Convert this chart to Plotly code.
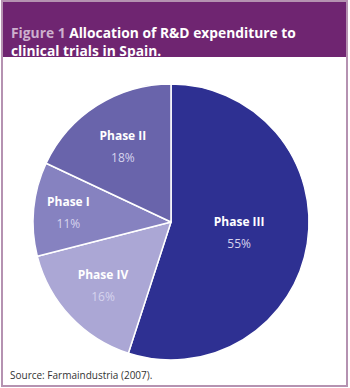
import plotly.graph_objects as go

labels = ["Phase III", "Phase IV", "Phase I", "Phase II"]
values = [55, 16, 11, 18]
colors = ["#2e3092", "#aba7d5", "#8682c0", "#6964ab"]

title_prefix = "Figure 1"
title_line1 = "Allocation of R&D expenditure to"
title_line2 = "clinical trials in Spain."
source = "Source: Farmaindustria (2007)."

W, H = 350, 388
fig = go.Figure()
fig.add_trace(go.Pie(
    labels=labels, values=values, sort=False, direction="clockwise", rotation=0,
    marker=dict(colors=colors, line=dict(color="white", width=1.5)),
    texttemplate="<span style='font-size:12px'><b>%{label}</b></span><br><span style='font-size:12px;color:#d6d4ee'>%{value}%</span>",
    textposition="inside", insidetextorientation="horizontal",
    textfont=dict(family="Open Sans", size=17, color="white"),
    domain=dict(x=[(171-138)/W, (171+138)/W], y=[1-360/H, 1-84/H]),
    showlegend=False, hoverinfo="label+percent",
))

shapes = [
    dict(type="rect", xref="paper", yref="paper", x0=2/W, x1=347/W, y0=1-386/H, y1=1-1/H,
         line=dict(color="#b592b1", width=2), fillcolor="rgba(0,0,0,0)", layer="above"),
    dict(type="rect", xref="paper", yref="paper", x0=2/W, x1=347/W, y0=1-57/H, y1=1-1/H,
         line=dict(width=0), fillcolor="#6f2571", layer="below"),
]
annotations = [
    dict(xref="paper", yref="paper", x=9/W, y=1-21/H, xanchor="left", yanchor="top",
         align="left", showarrow=False,
         text=f"<b><span style='color:#cdb0cd'>{title_prefix}</span> {title_line1}</b><br><b>{title_line2}</b>",
         font=dict(family="Open Sans", size=13.8, color="white")),
    dict(xref="paper", yref="paper", x=8/W, y=1-375/H, xanchor="left", yanchor="middle",
         showarrow=False, text=source,
         font=dict(family="Open Sans", size=10, color="#333333")),
]
fig.update_layout(
    width=W, height=H, margin=dict(l=0, r=0, t=0, b=0),
    paper_bgcolor="white", plot_bgcolor="white",
    shapes=shapes, annotations=annotations,
)
fig.write_html("out.html")
